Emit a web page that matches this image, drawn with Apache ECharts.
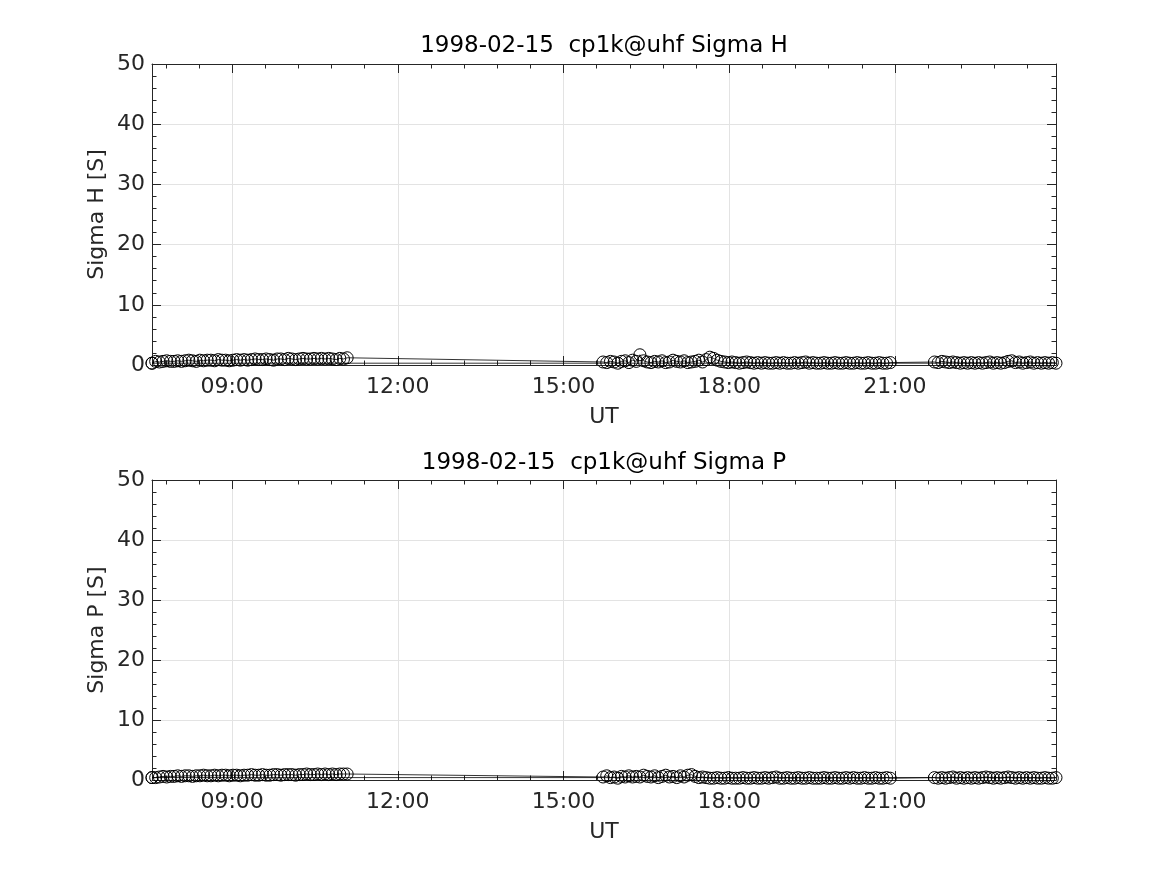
<!DOCTYPE html>
<html>
<head>
<meta charset="utf-8">
<script src="https://cdn.jsdelivr.net/npm/echarts@6/dist/echarts.min.js"></script>
<style>
html,body{margin:0;padding:0;background:#fff;}
#chart{width:1167px;height:875px;}
</style>
</head>
<body>
<div id="chart"></div>
<script>
// ---- data ----
// segments: start time (minutes after 00:00 UT), sample step in minutes
const SEG_START_MIN = [453, 943, 1303];   // 07:33, 15:43, 21:43
const STEP_MIN = 4;
const X_MIN_H = 453 / 60;   // 07:33
const X_MAX_H = 1435 / 60;  // 23:55
const X_TICK_LABELS = ['09:00', '12:00', '15:00', '18:00', '21:00'];

const sigmaH_seg1 = [0.3,0.6,0.5,0.6,0.7,0.6,0.6,0.7,0.6,0.7,
  0.8,0.7,0.6,0.8,0.7,0.8,0.8,0.7,0.9,0.8,
  0.8,0.7,0.8,0.9,0.8,0.9,0.8,0.9,1.0,0.9,
  0.9,1.0,0.9,0.8,1.0,1.0,0.9,1.1,1.0,0.9,
  1.0,1.1,1.0,1.0,1.1,1.0,1.1,1.0,1.1,1.0,
  0.9,1.1,1.0,1.2];
const sigmaH_seg2 = [0.5,0.4,0.6,0.5,0.3,0.6,0.7,0.4,0.8,0.6,
  1.7,0.7,0.5,0.4,0.6,0.5,0.7,0.4,0.5,0.8,
  0.6,0.5,0.7,0.4,0.5,0.6,0.8,0.5,0.9,1.3,
  1.1,0.8,0.6,0.5,0.4,0.5,0.4,0.3,0.4,0.5,
  0.4,0.3,0.4,0.3,0.4,0.3,0.3,0.4,0.3,0.4,
  0.3,0.3,0.4,0.3,0.4,0.5,0.3,0.4,0.3,0.3,
  0.4,0.3,0.3,0.4,0.3,0.3,0.4,0.3,0.3,0.4,
  0.3,0.3,0.4,0.3,0.3,0.4,0.3,0.3,0.4];
const sigmaH_seg3 = [0.5,0.4,0.6,0.5,0.4,0.5,0.4,0.3,0.4,0.3,
  0.4,0.3,0.4,0.3,0.4,0.5,0.3,0.4,0.3,0.4,
  0.6,0.7,0.4,0.5,0.3,0.4,0.5,0.3,0.4,0.3,
  0.4,0.3,0.4,0.3];

const sigmaP_seg1 = [0.4,0.4,0.5,0.6,0.5,0.6,0.6,0.7,0.6,0.7,
  0.7,0.6,0.7,0.7,0.8,0.7,0.7,0.8,0.7,0.8,
  0.8,0.7,0.8,0.8,0.7,0.8,0.8,0.9,0.8,0.8,
  0.9,0.8,0.8,0.9,0.9,0.8,0.9,0.9,0.9,0.8,
  0.9,0.9,1.0,0.9,0.9,1.0,0.9,1.0,0.9,1.0,
  0.9,1.0,1.0,1.0];
const sigmaP_seg2 = [0.5,0.7,0.4,0.5,0.3,0.6,0.5,0.7,0.5,0.6,
  0.5,0.8,0.6,0.5,0.7,0.4,0.6,0.8,0.5,0.6,
  0.4,0.7,0.5,0.8,0.9,0.6,0.4,0.5,0.4,0.3,
  0.3,0.4,0.3,0.3,0.4,0.3,0.3,0.3,0.4,0.3,
  0.3,0.4,0.3,0.3,0.4,0.3,0.4,0.5,0.3,0.3,
  0.4,0.3,0.3,0.4,0.3,0.3,0.4,0.3,0.3,0.3,
  0.4,0.3,0.3,0.4,0.3,0.3,0.4,0.3,0.4,0.3,
  0.3,0.4,0.3,0.3,0.4,0.3,0.3,0.4,0.3];
const sigmaP_seg3 = [0.4,0.3,0.4,0.3,0.4,0.5,0.3,0.4,0.3,0.4,
  0.3,0.4,0.3,0.4,0.5,0.4,0.3,0.4,0.3,0.4,
  0.5,0.4,0.3,0.4,0.3,0.4,0.3,0.4,0.3,0.3,
  0.4,0.3,0.3,0.4];

const TITLES = ['1998-02-15  cp1k@uhf Sigma H', '1998-02-15  cp1k@uhf Sigma P'];
const Y_NAMES = ['Sigma H [S]', 'Sigma P [S]'];
const X_NAME = 'UT';

// ---- build ----
function buildSeries(segs) {
  const pts = [];
  segs.forEach((vals, s) => {
    vals.forEach((v, i) => {
      pts.push([(SEG_START_MIN[s] + STEP_MIN * i) / 60, v]);
    });
  });
  // the recorded trace closes back onto its first sample
  pts.push(pts[0].slice());
  return pts;
}
const dataH = buildSeries([sigmaH_seg1, sigmaH_seg2, sigmaH_seg3]);
const dataP = buildSeries([sigmaP_seg1, sigmaP_seg2, sigmaP_seg3]);

const FONT = 'DejaVu Sans';
const AX = '#262626';
const GRIDC = '#e3e3e3';

function hh(v) {
  const h = Math.round(v * 60) / 60;
  if (Math.abs(h - Math.round(h)) > 1e-6 || Math.round(h) % 3 !== 0) return '';
  const s = String(Math.round(h)).padStart(2, '0') + ':00';
  return X_TICK_LABELS.indexOf(s) >= 0 ? s : '';
}

const grids = [
  {left: 152, top: 64, width: 904, height: 301},
  {left: 152, top: 480, width: 904, height: 300}
];

const xAxes = [], yAxes = [];
grids.forEach((g, gi) => {
  const base = {type: 'value', gridIndex: gi, min: X_MIN_H, max: X_MAX_H, splitNumber: 5};
  // main bottom axis
  xAxes.push(Object.assign({}, base, {
    position: 'bottom', minInterval: 3, maxInterval: 3,
    name: X_NAME, nameLocation: 'middle', nameGap: 41,
    nameTextStyle: {fontFamily: FONT, fontSize: 22, color: AX},
    axisLine: {show: true, onZero: false, lineStyle: {color: AX, width: 1}},
    axisTick: {show: true, inside: true, length: 9, lineStyle: {color: AX}},
    axisLabel: {show: true, margin: 11, fontFamily: FONT, fontSize: 22, color: AX,
      formatter: hh, showMinLabel: false, showMaxLabel: false},
    splitLine: {show: true, lineStyle: {color: GRIDC, width: 1}}
  }));
  // top major
  xAxes.push(Object.assign({}, base, {
    position: 'top', minInterval: 3, maxInterval: 3,
    axisLine: {show: true, onZero: false, lineStyle: {color: AX, width: 1}},
    axisTick: {show: true, inside: true, length: 9, lineStyle: {color: AX}},
    axisLabel: {show: false}, splitLine: {show: false}
  }));
  // bottom minor
  xAxes.push(Object.assign({}, base, {
    position: 'bottom', minInterval: 0.6, maxInterval: 0.6,
    axisLine: {show: false, onZero: false},
    axisTick: {show: true, inside: true, length: 4.5, lineStyle: {color: AX}},
    axisLabel: {show: false}, splitLine: {show: false}
  }));
  // top minor
  xAxes.push(Object.assign({}, base, {
    position: 'top', minInterval: 0.6, maxInterval: 0.6,
    axisLine: {show: false, onZero: false},
    axisTick: {show: true, inside: true, length: 4.5, lineStyle: {color: AX}},
    axisLabel: {show: false}, splitLine: {show: false}
  }));
  const ybase = {type: 'value', gridIndex: gi, min: 0, max: 50, interval: 10,
    minorTick: {show: true, splitNumber: 5, length: 4.5, lineStyle: {color: AX}},
    axisTick: {show: true, inside: true, length: 9, lineStyle: {color: AX}},
    axisLine: {show: true, onZero: false, lineStyle: {color: AX, width: 1}}};
  yAxes.push(Object.assign({}, ybase, {
    position: 'left',
    name: Y_NAMES[gi], nameLocation: 'middle', nameGap: 44, nameMoveOverlap: false,
    nameTextStyle: {fontFamily: FONT, fontSize: 22, color: AX},
    axisLabel: {show: true, margin: 7, fontFamily: FONT, fontSize: 22, color: AX},
    splitLine: {show: true, lineStyle: {color: GRIDC, width: 1}}
  }));
  yAxes.push(Object.assign({}, ybase, {
    position: 'right',
    axisLabel: {show: false}, splitLine: {show: false}
  }));
});

function lineSeries(data, gi) {
  return {
    type: 'line', data: data,
    xAxisIndex: gi * 4, yAxisIndex: gi * 2,
    symbol: 'circle', symbolSize: 12, showAllSymbol: true,
    lineStyle: {color: '#000', width: 0.8},
    itemStyle: {color: 'rgba(0,0,0,0)', borderColor: '#000', borderWidth: 1},
    emphasis: {disabled: true},
    clip: false, z: 3
  };
}

const option = {
  animation: false,
  backgroundColor: '#fff',
  title: [
    {text: TITLES[0], left: 604, top: 35, textAlign: 'center', padding: 0,
      textStyle: {fontFamily: FONT, fontSize: 23, fontWeight: 'normal', color: '#000'}},
    {text: TITLES[1], left: 604, top: 452, textAlign: 'center', padding: 0,
      textStyle: {fontFamily: FONT, fontSize: 23, fontWeight: 'normal', color: '#000'}}
  ],
  grid: grids,
  xAxis: xAxes,
  yAxis: yAxes,
  series: [lineSeries(dataH, 0), lineSeries(dataP, 1)]
};

const chart = echarts.init(document.getElementById('chart'), null, {renderer: 'canvas'});
chart.setOption(option);
</script>
</body>
</html>
